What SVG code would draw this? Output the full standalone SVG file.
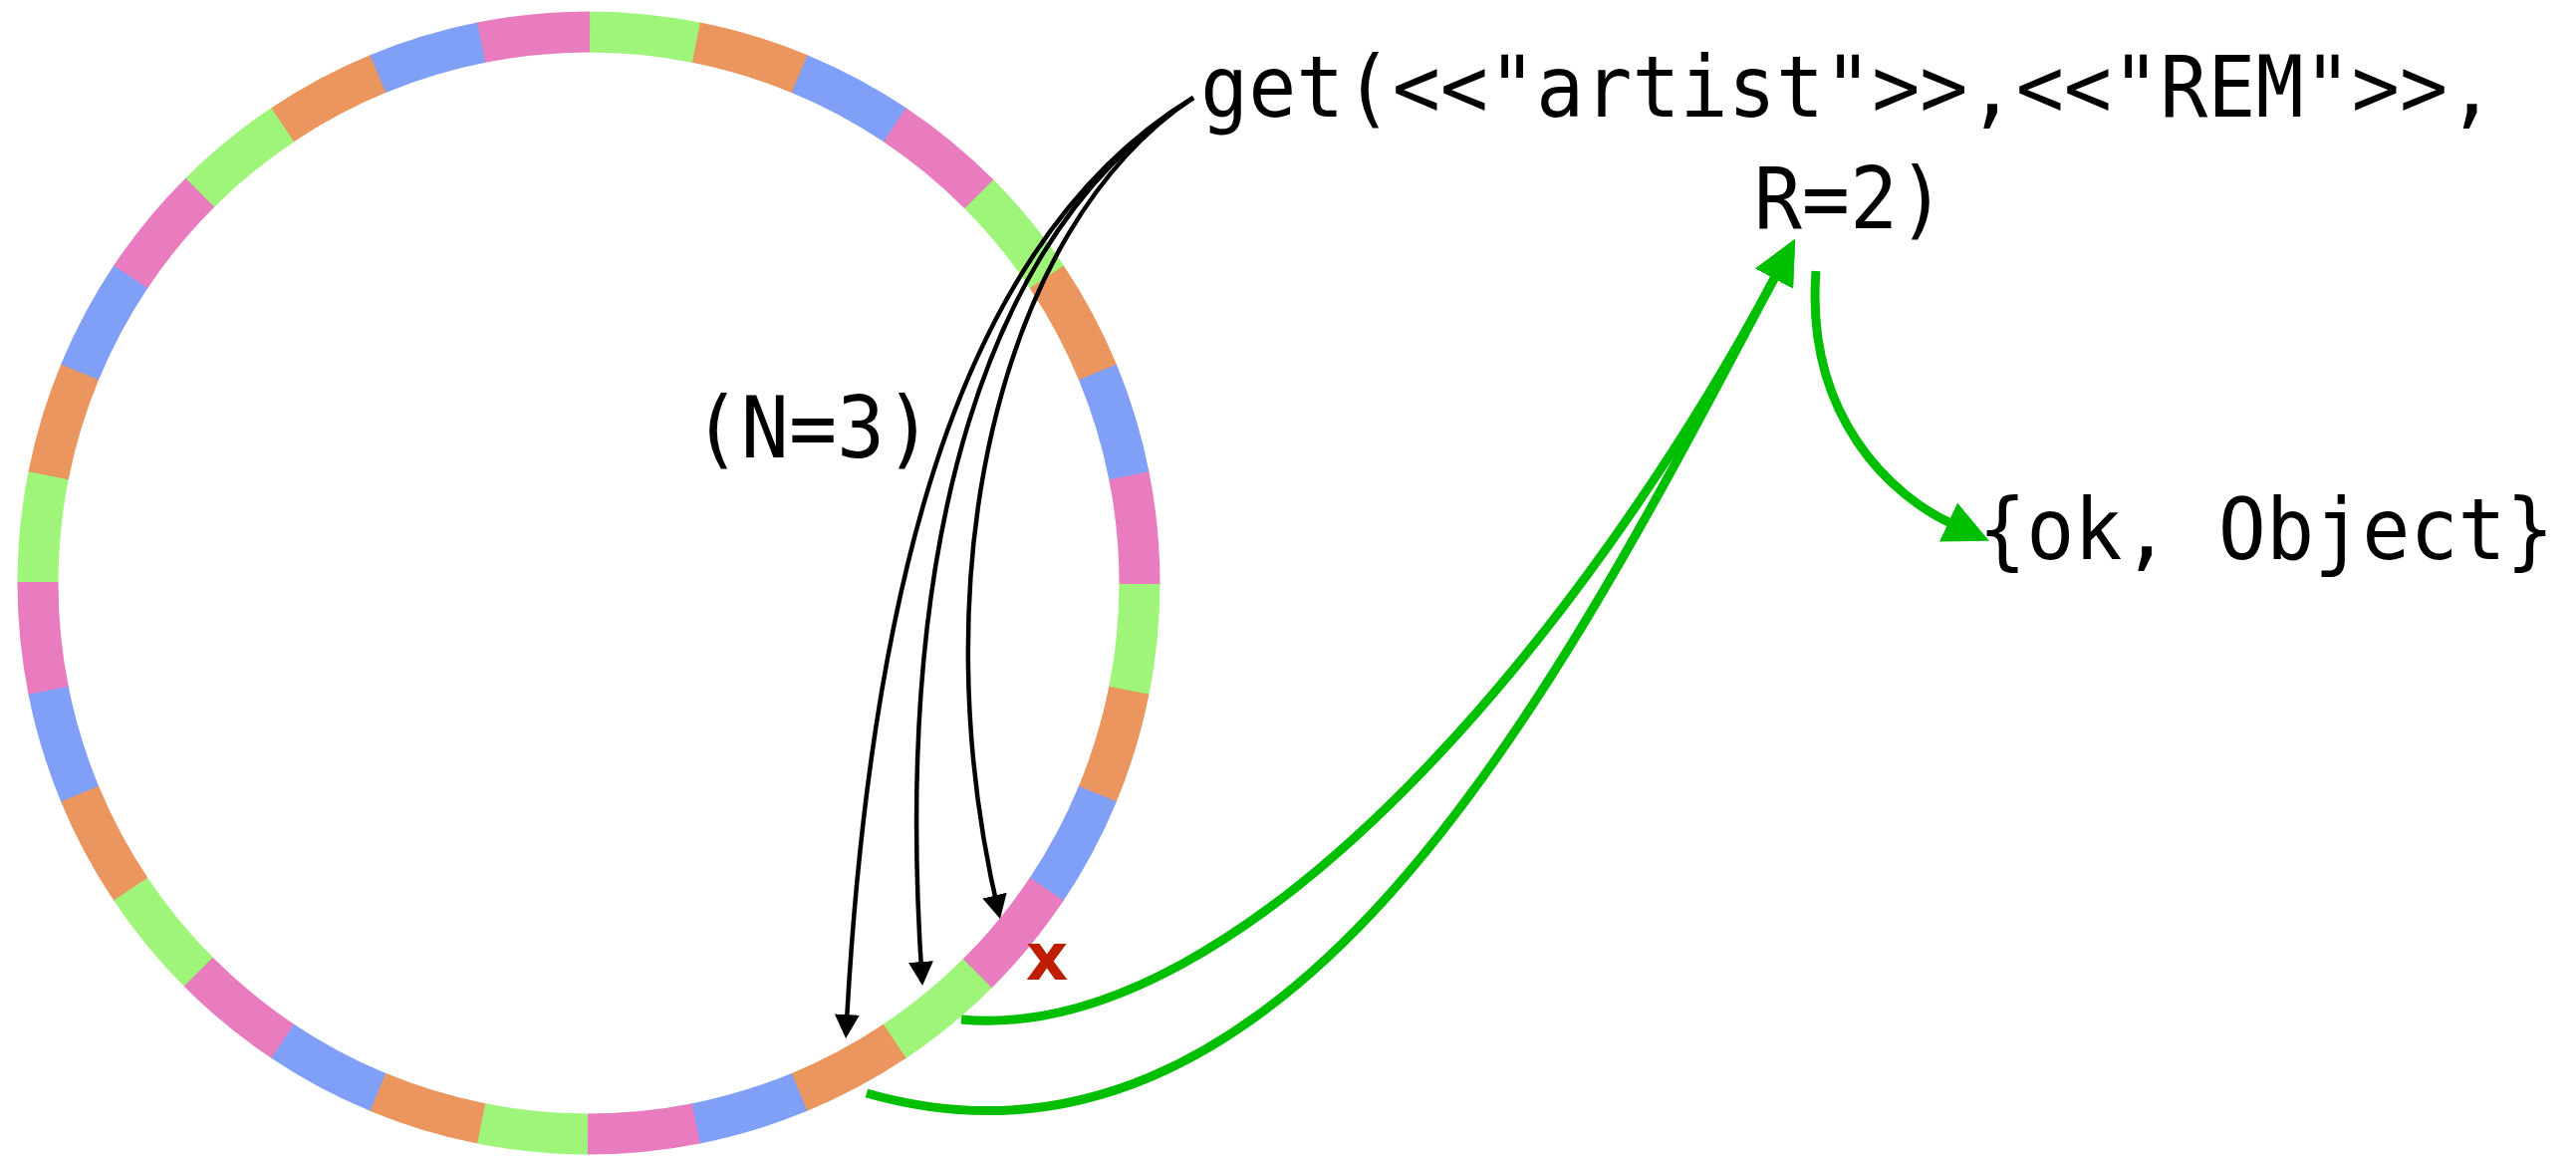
<svg xmlns="http://www.w3.org/2000/svg" width="2586" height="1160" viewBox="0 0 2586 1160">
<style>
.seg{fill:none;stroke-width:41}
.lbl{font-family:"DejaVu Sans Mono","Liberation Mono",monospace;font-size:80px;fill:#000}
.blk{fill:none;stroke:#000;stroke-width:4.5}
.grn{fill:none;stroke:#00bf00;stroke-width:9}
</style>
<defs>
<marker id="ah" markerUnits="userSpaceOnUse" markerWidth="25" markerHeight="25" refX="20" refY="12.5" orient="auto" viewBox="0 0 25 25">
<path d="M0,0 L24,12.5 L0,25 Z" fill="#000"/>
</marker>
<marker id="gh" markerUnits="userSpaceOnUse" markerWidth="45" markerHeight="43" refX="4" refY="21.5" orient="auto" viewBox="0 0 45 43">
<path d="M0,0 L45,21.5 L0,43 Z" fill="#00bf00"/>
</marker>
</defs>
<rect width="2586" height="1160" fill="#fff"/>
<g id="ring" transform="rotate(-90 591 585)">
<circle class="seg" cx="591" cy="585" r="553" pathLength="32" stroke="#9ef57a" stroke-dasharray="1.01 2.99" stroke-dashoffset="0"/>
<circle class="seg" cx="591" cy="585" r="553" pathLength="32" stroke="#eb955f" stroke-dasharray="1.01 2.99" stroke-dashoffset="-1"/>
<circle class="seg" cx="591" cy="585" r="553" pathLength="32" stroke="#80a0f8" stroke-dasharray="1.01 2.99" stroke-dashoffset="-2"/>
<circle class="seg" cx="591" cy="585" r="553" pathLength="32" stroke="#e87cbf" stroke-dasharray="1.01 2.99" stroke-dashoffset="-3"/>
</g>
<g id="connectors">
<path class="blk" d="M1198,98 C980,230 875,540 849.3,1038" marker-end="url(#ah)"/>
<path class="blk" d="M1198,98 C990,230 895,540 925.8,985" marker-end="url(#ah)"/>
<path class="blk" d="M1198,98 C1000,230 923,582 1003.1,918.1" marker-end="url(#ah)"/>
<path class="grn" d="M965,1023 C1250,1050 1595.3,629.2 1782.9,276" marker-end="url(#gh)"/>
<path class="grn" d="M870,1097 C1300,1220 1571.9,673.4 1782.9,276" marker-end="url(#gh)"/>
<path class="grn" d="M1823,272 C1812,420 1900.6,498.5 1959.6,525.7" marker-end="url(#gh)"/>
</g>
<g id="get-call">
<text class="lbl" transform="translate(1205,117) scale(1,1.06)">get(&lt;&lt;"artist"&gt;&gt;,&lt;&lt;"REM"&gt;&gt;,</text>
<text class="lbl" text-anchor="middle" transform="translate(1857,229) scale(1,1.06)">R=2)</text>
</g>
<g id="n-label">
<text class="lbl" text-anchor="middle" transform="translate(816,459) scale(1,1.06)">(N=3)</text>
</g>
<g id="result">
<text class="lbl" text-anchor="middle" transform="translate(2275,561) scale(1,1.06)">{ok, Object}</text>
</g>
<g id="failed-mark">
<text x="1051" y="983" text-anchor="middle" font-family="DejaVu Sans, sans-serif" font-weight="bold" font-size="66" fill="#bf1d00">x</text>
</g>
</svg>
